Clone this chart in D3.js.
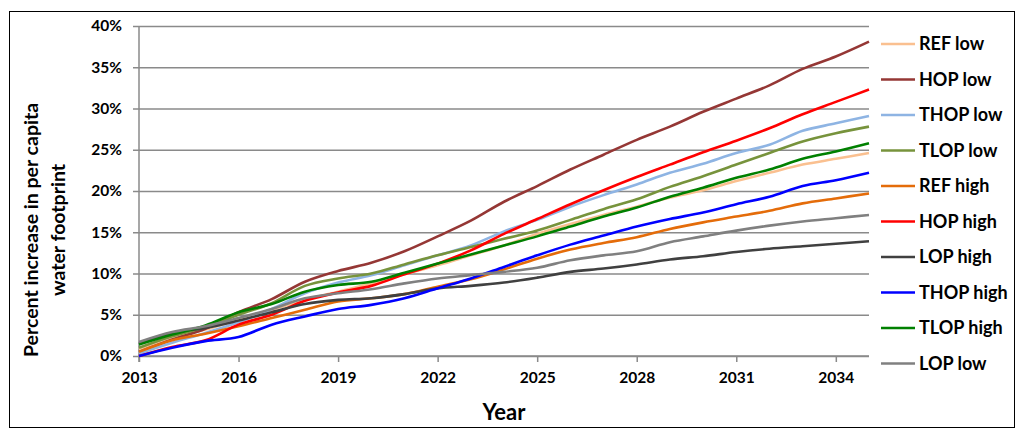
<!DOCTYPE html>
<html>
<head>
<meta charset="utf-8">
<script src="https://cdn.jsdelivr.net/npm/d3@7"></script>
<style>
  body { margin: 0; background: #fff; }
  text { font-family: Lato, "Open Sans", sans-serif; font-weight: bold; fill: #000; }
</style>
</head>
<body>
<script>
var w = 1024;
var h = 437;

// years on the category axis
var years = d3.range(2013, 2036);
var tick_years = [2013, 2016, 2019, 2022, 2025, 2028, 2031, 2034];
var y_ticks = [0, 5, 10, 15, 20, 25, 30, 35, 40];

// series names (legend order) and colours
var series_names = ["REF low", "HOP low", "THOP low", "TLOP low", "REF high",
                    "HOP high", "LOP high", "THOP high", "TLOP high", "LOP low"];
var series_colors = ["#FAC090", "#953735", "#8EB4E3", "#77933C", "#E46C0A",
                     "#FF0000", "#404040", "#0000FF", "#008000", "#808080"];

// percent increase, one value per year 2013..2035
var ref_low   = [0.8, 2.3, 3.2, 4.4, 5.6, 6.8, 7.8, 8.8, 9.9, 11.0, 12.2, 13.4, 14.8, 16.0, 17.1, 18.1, 19.2, 20.1, 21.2, 22.2, 23.2, 23.9, 24.6];
var hop_low   = [0.5, 2.0, 3.3, 5.3, 6.9, 9.0, 10.3, 11.3, 12.7, 14.5, 16.4, 18.7, 20.6, 22.6, 24.4, 26.2, 27.8, 29.6, 31.2, 32.8, 34.8, 36.3, 38.1];
var thop_low  = [0.3, 1.6, 2.8, 4.1, 5.7, 7.6, 8.9, 9.8, 11.0, 12.2, 13.4, 15.1, 16.5, 18.1, 19.5, 20.8, 22.2, 23.3, 24.6, 25.6, 27.3, 28.2, 29.1];
var tlop_low  = [1.0, 2.4, 3.5, 5.0, 6.4, 8.5, 9.4, 10.0, 11.1, 12.2, 13.2, 14.2, 15.2, 16.5, 17.8, 19.0, 20.5, 21.8, 23.2, 24.6, 26.0, 27.0, 27.8];
var ref_high  = [0.5, 1.9, 2.7, 3.6, 4.6, 5.6, 6.6, 7.0, 7.5, 8.4, 9.3, 10.5, 11.8, 12.9, 13.7, 14.4, 15.4, 16.2, 16.9, 17.6, 18.5, 19.1, 19.7];
var hop_high  = [0.0, 1.1, 1.9, 3.8, 5.0, 6.7, 7.7, 8.5, 9.9, 11.2, 12.8, 14.8, 16.6, 18.4, 20.1, 21.7, 23.2, 24.7, 26.1, 27.6, 29.3, 30.8, 32.3];
var lop_high  = [1.5, 2.8, 3.4, 4.3, 5.3, 6.3, 6.8, 7.0, 7.5, 8.2, 8.5, 8.9, 9.5, 10.2, 10.6, 11.1, 11.7, 12.1, 12.6, 13.0, 13.3, 13.6, 13.9];
var thop_high = [0.0, 1.0, 1.8, 2.3, 3.8, 4.8, 5.7, 6.2, 7.0, 8.2, 9.4, 10.8, 12.2, 13.5, 14.6, 15.7, 16.6, 17.4, 18.4, 19.3, 20.6, 21.3, 22.2];
var tlop_high = [1.4, 2.6, 3.7, 5.3, 6.3, 7.8, 8.6, 9.0, 10.1, 11.2, 12.3, 13.4, 14.5, 15.7, 16.9, 18.0, 19.3, 20.4, 21.6, 22.6, 23.9, 24.8, 25.8];
var lop_low   = [1.7, 2.9, 3.6, 4.6, 5.7, 7.0, 7.6, 8.1, 8.8, 9.4, 9.8, 10.2, 10.7, 11.6, 12.2, 12.7, 13.8, 14.5, 15.2, 15.8, 16.3, 16.7, 17.1];

var series_values = [ref_low, hop_low, thop_low, tlop_low, ref_high,
                     hop_high, lop_high, thop_high, tlop_high, lop_low];

// plot area (pl/pr/pt/pb = left, right, top, bottom edges)
var pl = 139, pr = 869, pt = 26, pb = 356;

var x = d3.scaleLinear().domain([2013, 2035]).range([pl, pr]);
var y = d3.scaleLinear().domain([0, 40]).range([pb, pt]);

var svg = d3.select("body").append("svg")
            .attr("width", w)
            .attr("height", h);

// outer frame
svg.append("rect")
   .attr("x", 9.5).attr("y", 11.5)
   .attr("width", 1005).attr("height", 416)
   .attr("fill", "none")
   .attr("stroke", "#000")
   .attr("stroke-width", 1);

// gridlines + y labels
var yAxis = d3.axisLeft(y)
              .tickValues(y_ticks)
              .tickSize(6)
              .tickFormat(function(d){ return d + "%"; });
var gy = svg.append("g")
            .attr("transform", "translate(" + (pl - 6) + ",0)")
            .call(yAxis);
gy.select(".domain").remove();
gy.selectAll(".tick line")
  .attr("x1", 0)
  .attr("x2", pr - pl + 6)
  .attr("stroke", "#8a8a8a")
  .attr("stroke-width", 1.5);
gy.selectAll(".tick text")
  .attr("x", -11)
  .attr("font-size", 15.5)
  .attr("font-family", "'Open Sans', sans-serif");

// left axis line
svg.append("line")
   .attr("x1", pl).attr("x2", pl)
   .attr("y1", pt).attr("y2", pb + 6)
   .attr("stroke", "#8a8a8a")
   .attr("stroke-width", 1.5);

// x axis
var xAxis = d3.axisBottom(x)
              .tickValues(tick_years)
              .tickSize(6)
              .tickPadding(10)
              .tickFormat(d3.format("d"));
var gx = svg.append("g")
            .attr("transform", "translate(0," + pb + ")")
            .call(xAxis);
gx.select(".domain")
  .attr("d", "M" + pl + ",0H" + pr)
  .attr("stroke", "#8a8a8a")
  .attr("stroke-width", 1.5);
gx.selectAll(".tick line")
  .attr("stroke", "#8a8a8a")
  .attr("stroke-width", 1.5);
gx.selectAll(".tick text")
  .attr("font-size", 15.5)
  .attr("font-family", "'Open Sans', sans-serif");

// lines
var line = d3.line()
             .x(function(d, i){ return x(years[i]); })
             .y(function(d){ return y(d); })
             .curve(d3.curveCatmullRom.alpha(0.5));

svg.append("g").attr("id", "series")
   .selectAll("path")
   .data(series_values)
   .enter()
   .append("path")
   .attr("d", line)
   .attr("fill", "none")
   .attr("stroke", function(d, i){ return series_colors[i]; })
   .attr("stroke-width", 2.6)
   .attr("stroke-linejoin", "round");

// legend
var legend = svg.append("g").attr("id", "legend");
var items = legend.selectAll("g")
                  .data(series_names)
                  .enter()
                  .append("g")
                  .attr("transform", function(d, i){ return "translate(0," + (44 + i * 35.5) + ")"; });
items.append("line")
     .attr("x1", 881).attr("x2", 915)
     .attr("y1", 0).attr("y2", 0)
     .attr("stroke", function(d, i){ return series_colors[i]; })
     .attr("stroke-width", 2.6);
items.append("text")
     .attr("x", 919)
     .attr("dy", "0.36em")
     .attr("font-size", 18)
     .text(function(d){ return d; });

// axis titles
svg.append("text")
   .attr("x", 504).attr("y", 420)
   .attr("text-anchor", "middle")
   .attr("font-size", 22)
   .text("Year");

var ytitle = svg.append("text")
   .attr("transform", "translate(38,230) rotate(-90)")
   .attr("text-anchor", "middle")
   .attr("font-size", 19.5);
ytitle.append("tspan").attr("x", 0).attr("y", 0).text("Percent increase in per capita");
ytitle.append("tspan").attr("x", 0).attr("y", 27).text("water footprint");
</script>
</body>
</html>
